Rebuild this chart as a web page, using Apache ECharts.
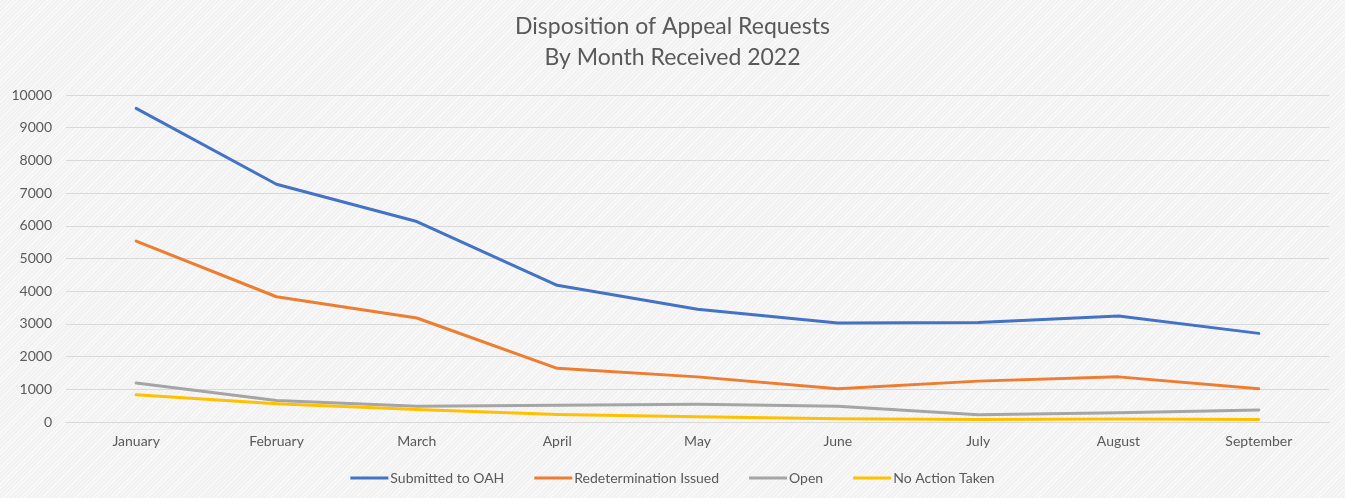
<!DOCTYPE html>
<html>
<head>
<meta charset="utf-8">
<script src="https://cdn.jsdelivr.net/npm/echarts@6/dist/echarts.min.js"></script>
<style>
  html, body { margin: 0; padding: 0; }
  body {
    width: 1345px; height: 498px;
    background-color: #f2f2f2;
    background-image: repeating-linear-gradient(135deg, rgba(255,255,255,0.55) 0px, rgba(255,255,255,0.55) 1px, rgba(0,0,0,0) 1px, rgba(0,0,0,0) 3px);
  }
  #chart { width: 1345px; height: 498px; }
</style>
</head>
<body>
<div id="chart"></div>
<script>
// Monthly counts of appeal requests by disposition, 2022
const months = ['January', 'February', 'March', 'April', 'May', 'June', 'July', 'August', 'September'];
const submittedToOAH = [9590, 7270, 6130, 4180, 3450, 3030, 3040, 3240, 2710];
const redeterminationIssued = [5530, 3830, 3180, 1640, 1380, 1020, 1250, 1380, 1020];
const openRequests = [1190, 660, 480, 510, 540, 480, 220, 280, 370];
const noActionTaken = [830, 560, 380, 230, 160, 100, 80, 90, 80];

const textColor = '#595959';
const font = 'Lato';

const chart = echarts.init(document.getElementById('chart'), null, { renderer: 'canvas' });

function lineSeries(name, data, color) {
  return {
    name: name,
    type: 'line',
    data: data,
    symbol: 'none',
    lineStyle: { width: 3, color: color, cap: 'round', join: 'round' },
    itemStyle: { color: color }
  };
}

chart.setOption({
  backgroundColor: 'transparent',
  animation: false,
  title: {
    text: 'Disposition of Appeal Requests\nBy Month Received 2022',
    left: 'center',
    top: 6,
    textStyle: { color: textColor, fontFamily: font, fontWeight: 'normal', fontSize: 23, lineHeight: 31 }
  },
  legend: {
    top: 466,
    left: 'center',
    itemWidth: 38,
    itemHeight: 3,
    itemGap: 30,
    icon: 'rect',
    textStyle: { color: textColor, fontFamily: font, fontSize: 14, padding: [0, 0, 0, -3] },
    data: ['Submitted to OAH', 'Redetermination Issued', 'Open', 'No Action Taken']
  },
  grid: { left: 66, right: 16, top: 95, bottom: 76, containLabel: false },
  xAxis: {
    type: 'category',
    data: months,
    boundaryGap: true,
    axisLine: { show: true, lineStyle: { color: '#d9d9d9', width: 1 } },
    axisTick: { show: false },
    axisLabel: { color: textColor, fontFamily: font, fontSize: 14, margin: 12 }
  },
  yAxis: {
    type: 'value',
    min: 0,
    max: 10000,
    interval: 1000,
    axisLine: { show: false },
    axisTick: { show: false },
    axisLabel: { color: textColor, fontFamily: font, fontSize: 14, margin: 14, formatter: v => String(v) },
    splitLine: { lineStyle: { color: '#d9d9d9', width: 1 } }
  },
  series: [
    lineSeries('Submitted to OAH', submittedToOAH, '#4472C4'),
    lineSeries('Redetermination Issued', redeterminationIssued, '#ED7D31'),
    lineSeries('Open', openRequests, '#A5A5A5'),
    lineSeries('No Action Taken', noActionTaken, '#FFC000')
  ]
});
</script>
</body>
</html>
